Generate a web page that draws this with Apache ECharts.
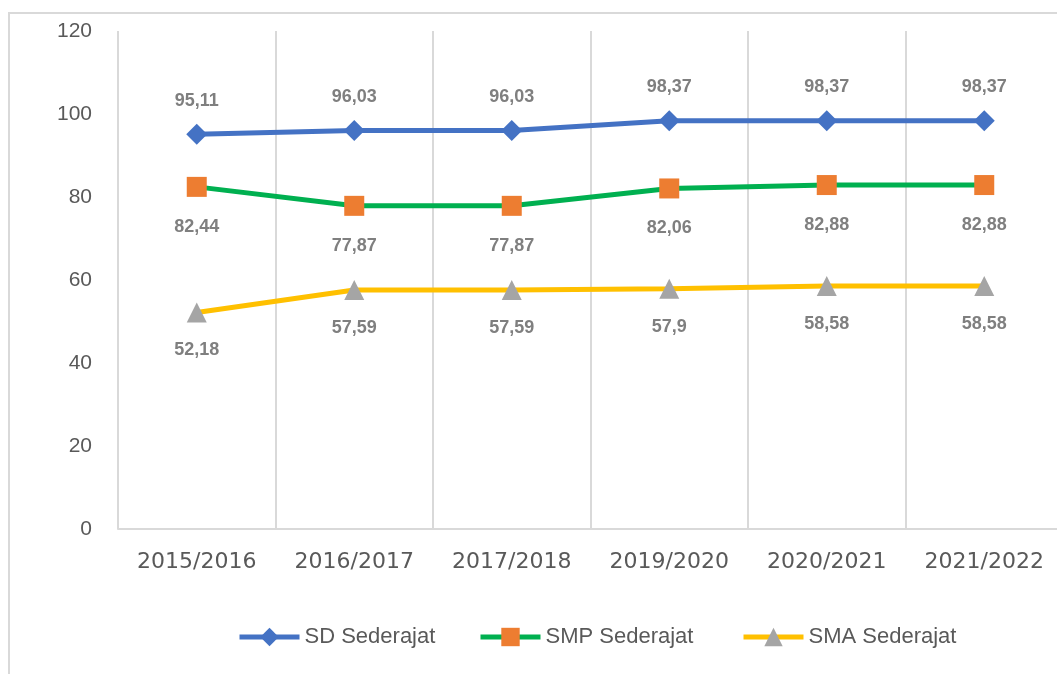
<!DOCTYPE html>
<html>
<head>
<meta charset="utf-8">
<script src="https://cdn.jsdelivr.net/npm/echarts@6/dist/echarts.min.js"></script>
<style>html,body{margin:0;padding:0;background:#fff;overflow:hidden;width:1057px;height:674px;}#c{width:1080px;height:674px;}</style>
</head>
<body>
<div id="c"></div>
<script>
const categories = ['2015/2016', '2016/2017', '2017/2018', '2019/2020', '2020/2021', '2021/2022'];
const sdValues = [95.11, 96.03, 96.03, 98.37, 98.37, 98.37];
const smpValues = [82.44, 77.87, 77.87, 82.06, 82.88, 82.88];
const smaValues = [52.18, 57.59, 57.59, 57.9, 58.58, 58.58];
const seriesNames = ['SD Sederajat', 'SMP Sederajat', 'SMA Sederajat'];

const chart = echarts.init(document.getElementById('c'), null, {renderer: 'canvas'});
const fmt = p => String(p.value).replace('.', ',');
const labelBase = {show: true, formatter: fmt, color: '#7f7f7f', fontFamily: 'Liberation Sans', fontWeight: 'bold', fontSize: 18};
const legendBase = {padding: 0, itemWidth: 60, itemHeight: 23, itemGap: 4, top: 626,
  lineStyle: {width: 5},
  textStyle: {color: '#595959', fontFamily: 'Liberation Sans', fontSize: 22}};

chart.setOption({
  animation: false,
  backgroundColor: '#fff',
  graphic: [{type: 'rect', shape: {x: 9, y: 13, width: 1200, height: 800},
    style: {fill: 'none', stroke: '#d9d9d9', lineWidth: 2}, silent: true}],
  grid: {left: 118, top: 31, width: 945, height: 498},
  legend: [
    Object.assign({}, legendBase, {left: 237, data: [seriesNames[0]]}),
    Object.assign({}, legendBase, {left: 478, data: [seriesNames[1]]}),
    Object.assign({}, legendBase, {left: 741, data: [seriesNames[2]]})
  ],
  xAxis: {
    type: 'category', data: categories, boundaryGap: true,
    axisLine: {show: true, lineStyle: {color: '#d9d9d9', width: 2}},
    axisTick: {show: false},
    splitLine: {show: true, interval: 0, lineStyle: {color: '#d9d9d9', width: 2}},
    axisLabel: {color: '#595959', fontFamily: 'DejaVu Sans', fontSize: 22, margin: 22, interval: 0}
  },
  yAxis: {
    type: 'value', min: 0, max: 120, interval: 20,
    axisLine: {show: false}, axisTick: {show: false}, splitLine: {show: false},
    axisLabel: {color: '#595959', fontFamily: 'Liberation Sans', fontSize: 21, margin: 26}
  },
  series: [
    {name: seriesNames[0], type: 'line', data: sdValues, symbol: 'diamond', symbolSize: 21,
      lineStyle: {color: '#4472C4', width: 5}, itemStyle: {color: '#4472C4'},
      label: Object.assign({}, labelBase, {position: 'top', distance: 14})},
    {name: seriesNames[1], type: 'line', data: smpValues, symbol: 'rect', symbolSize: 20,
      lineStyle: {color: '#00B050', width: 5}, itemStyle: {color: '#ED7D31'},
      label: Object.assign({}, labelBase, {position: 'bottom', distance: 21})},
    {name: seriesNames[2], type: 'line', data: smaValues, symbol: 'triangle', symbolSize: 20,
      lineStyle: {color: '#FFC000', width: 5}, itemStyle: {color: '#A5A5A5'},
      label: Object.assign({}, labelBase, {position: 'bottom', distance: 19})}
  ]
});
</script>
</body>
</html>
